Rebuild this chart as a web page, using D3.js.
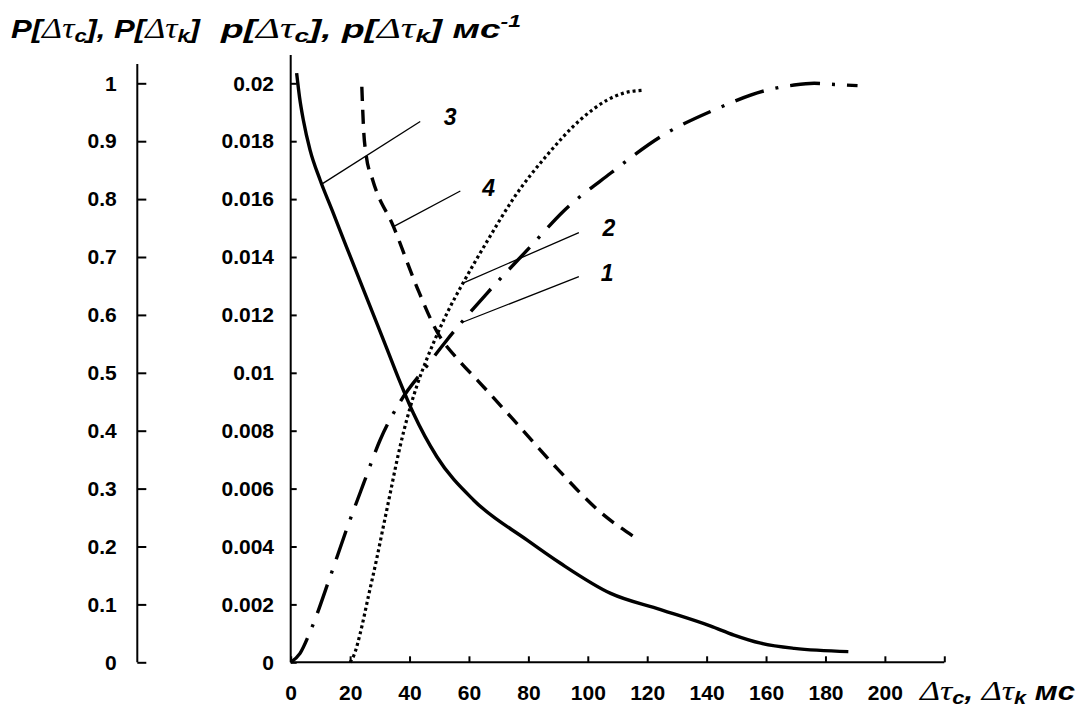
<!DOCTYPE html>
<html>
<head>
<meta charset="utf-8">
<script src="https://cdn.jsdelivr.net/npm/d3@7/dist/d3.min.js"></script>
<style>
  body { margin: 0; background: #fff; }
  svg text { fill: #000; }
</style>
</head>
<body>
<svg id="chart" width="1078" height="706"></svg>
<script>
// Delay axis (ms) and the two value axes
const xTicks = [0, 20, 40, 60, 80, 100, 120, 140, 160, 180, 200, 220];
const cdfTicks = [0, 0.1, 0.2, 0.3, 0.4, 0.5, 0.6, 0.7, 0.8, 0.9, 1];
const pdfTicks = [0, 0.002, 0.004, 0.006, 0.008, 0.01, 0.012, 0.014, 0.016, 0.018, 0.02];

// Curve 1 — distribution function P (dash-dot)
const curve1X = [0, 3.14, 6.51, 13.25, 18.98, 24.48, 30.1, 36.85, 45.85, 52.6, 66.08, 80.68, 91.9, 107.65, 124.5, 142.5, 160.5, 169.45, 176.2, 183, 190.8];
const curve1P = [0, 0.0155, 0.0523, 0.1473, 0.232, 0.308, 0.384, 0.45, 0.512, 0.5567, 0.6373, 0.7178, 0.7795, 0.8446, 0.9078, 0.9539, 0.9884, 0.997, 1.0, 0.998, 0.9959];

// Curve 2 — distribution function P (dotted)
const curve2X = [20, 21.5, 23.4, 26.2, 29, 31.2, 33.5, 35.7, 38, 40.2, 42.5, 45.9, 48.6, 53, 58, 66.1, 75.1, 86.3, 97.5, 106.5, 112, 118.3];
const curve2P = [0, 0.015, 0.05, 0.115, 0.18, 0.235, 0.292, 0.347, 0.398, 0.44, 0.478, 0.525, 0.558, 0.607, 0.655, 0.727, 0.802, 0.876, 0.937, 0.971, 0.983, 0.988];

// Curve 3 — density p (solid)
const curve3X = [2, 3, 4.25, 6.5, 9.9, 14, 18.7, 27.8, 32.4, 36.3, 41.3, 49.2, 61.6, 79.6, 90.8, 107.7, 124.5, 141.4, 149.2, 158.2, 169.5, 187.7];
const curve3p = [0.02035, 0.0195, 0.01873, 0.0177, 0.01666, 0.0156, 0.01437, 0.01202, 0.01083, 0.00981, 0.0086, 0.0071, 0.0056, 0.00422, 0.00342, 0.00238, 0.00182, 0.00125, 0.00094, 0.00066, 0.00048, 0.00037];

// Curve 4 — density p (dashed)
const curve4X = [23.94, 24.55, 25.4, 27.6, 34.6, 42.6, 49.3, 57.1, 62.8, 74.95, 89.8, 104.3, 115.5];
const curve4p = [0.01988, 0.01839, 0.01752, 0.01666, 0.01505, 0.01293, 0.01141, 0.01037, 0.00975, 0.00838, 0.00668, 0.00518, 0.00434];

const svg = d3.select("#chart");
const FONT = "'Liberation Sans', Arial, sans-serif";
const SERIF = "'Liberation Serif', 'Times New Roman', serif";

const x = d3.scaleLinear().domain([0, 220]).range([290.7, 944.3]);
const yP = d3.scaleLinear().domain([0, 1]).range([662.3, 83.3]);
const yp = d3.scaleLinear().domain([0, 0.02]).range([662.3, 83.3]);

const TICK_FONT = 21;

function styleAxis(g) {
  g.select(".domain").remove();
  g.selectAll(".tick line").attr("stroke", "#000").attr("stroke-width", 2);
  g.selectAll(".tick text")
    .style("font-family", FONT)
    .style("font-weight", "bold")
    .style("font-size", TICK_FONT + "px")
    .attr("fill", "#000");
}

// Left axis: P
const gP = svg.append("g").attr("transform", "translate(137.3,0)")
  .call(d3.axisLeft(yP).tickValues(cdfTicks).tickSizeInner(-9).tickSizeOuter(0)
    .tickPadding(20.6).tickFormat(d => String(d)));
styleAxis(gP);
gP.append("line").attr("x1", 0).attr("x2", 0).attr("y1", 64).attr("y2", yP(0))
  .attr("stroke", "#000").attr("stroke-width", 2);

// Middle axis: p
const gp = svg.append("g").attr("transform", "translate(290.7,0)")
  .call(d3.axisLeft(yp).tickValues(pdfTicks).tickSizeInner(-6).tickSizeOuter(0)
    .tickPadding(16.7).tickFormat(d => String(d)));
styleAxis(gp);
gp.append("line").attr("x1", 0).attr("x2", 0).attr("y1", 55).attr("y2", yp(0))
  .attr("stroke", "#000").attr("stroke-width", 2);

// Bottom axis: delay
const gx = svg.append("g").attr("transform", `translate(0,${yP(0)})`)
  .call(d3.axisBottom(x).tickValues(xTicks).tickSizeInner(-6).tickSizeOuter(0)
    .tickPadding(23).tickFormat(d => d === 220 ? "" : String(d)));
styleAxis(gx);
gx.append("line").attr("x1", x(0)).attr("x2", x(220)).attr("y1", 0).attr("y2", 0)
  .attr("stroke", "#000").attr("stroke-width", 2);

// Curves
const lineP = d3.line().x(d => x(d[0])).y(d => yP(d[1])).curve(d3.curveMonotoneX);
const linep = d3.line().x(d => x(d[0])).y(d => yp(d[1])).curve(d3.curveMonotoneX);
const zip = (a, b) => a.map((v, i) => [v, b[i]]);

const curves = [
  { pts: zip(curve1X, curve1P), gen: lineP, dash: "30 12 3 12", w: 3.4 },
  { pts: zip(curve2X, curve2P), gen: lineP, dash: "3 3", w: 3.2 },
  { pts: zip(curve3X, curve3p), gen: linep, dash: null, w: 3.4 },
  { pts: zip(curve4X, curve4p), gen: linep, dash: "14 9", w: 3.4 }
];
curves.forEach(c => {
  svg.append("path")
    .attr("d", c.gen(c.pts))
    .attr("fill", "none")
    .attr("stroke", "#000")
    .attr("stroke-width", c.w)
    .attr("stroke-dasharray", c.dash);
});

// Curve labels with leader lines (leader start sits on the curve)
function interp(xs, ys, v) {
  const i = Math.max(1, Math.min(xs.length - 1, d3.bisectLeft(xs, v)));
  const t = (v - xs[i - 1]) / (xs[i] - xs[i - 1]);
  return ys[i - 1] + t * (ys[i] - ys[i - 1]);
}
const notes = [
  { text: "1", xs: curve1X, ys: curve1P, sy: yP, at: 57.65, ex: 97.0, ey: 0.666, tx: 106.5, ty: 0.672 },
  { text: "2", xs: curve2X, ys: curve2P, sy: yP, at: 58.0, ex: 97.0, ey: 0.742, tx: 107.1, ty: 0.75 },
  { text: "3", xs: curve3X, ys: curve3p, sy: yp, at: 10.45, ex: 43.6, ey: 0.934, tx: 53.7, ty: 0.942 },
  { text: "4", xs: curve4X, ys: curve4p, sy: yp, at: 34.6, ex: 57.1, ey: 0.814, tx: 66.6, ty: 0.819 }
];
notes.forEach(n => {
  svg.append("line")
    .attr("x1", x(n.at)).attr("y1", n.sy(interp(n.xs, n.ys, n.at)))
    .attr("x2", x(n.ex)).attr("y2", yP(n.ey))
    .attr("stroke", "#000").attr("stroke-width", 1.3);
  svg.append("text")
    .attr("x", x(n.tx)).attr("y", yP(n.ty))
    .attr("dy", "0.35em")
    .attr("text-anchor", "middle")
    .style("font-family", FONT).style("font-weight", "bold").style("font-style", "italic")
    .style("font-size", "23px")
    .text(n.text);
});

// Axis titles built from runs: [text, kind], stretched to a given length
function richText(xPos, yPos, size, len, subShift, runs) {
  const t = svg.append("text").attr("x", xPos).attr("y", yPos)
    .attr("textLength", len).attr("lengthAdjust", "spacingAndGlyphs")
    .style("font-family", FONT).style("font-weight", "bold").style("font-style", "italic")
    .style("font-size", size + "px");
  let shift = 0;
  runs.forEach(([s, kind]) => {
    const ts = t.append("tspan").text(s);
    let target = 0;
    if (kind === "greek") {
      ts.style("font-family", SERIF).style("font-weight", "normal").style("font-size", (size * 1.1) + "px");
    } else if (kind === "sub") {
      ts.style("font-size", (size * 0.7) + "px"); target = subShift;
    } else if (kind === "sup") {
      ts.style("font-size", (size * 0.62) + "px"); target = -size * 0.42;
    }
    if (target !== shift) { ts.attr("dy", target - shift); shift = target; }
  });
  return t;
}

richText(11, 38, 26, 189, 4, [
  ["P[", ""], ["Δτ", "greek"], ["c", "sub"], ["], P[", ""], ["Δτ", "greek"], ["k", "sub"], ["]", ""]
]);
richText(221, 38, 26, 300, 4, [
  ["p[", ""], ["Δτ", "greek"], ["c", "sub"], ["], p[", ""], ["Δτ", "greek"], ["k", "sub"], ["] мс", ""], ["-1", "sup"]
]);
richText(920, 700, 25, 155, 3.5, [
  ["Δτ", "greek"], ["c", "sub"], [", ", ""], ["Δτ", "greek"], ["k", "sub"], [" мс", ""]
]);
</script>
</body>
</html>
